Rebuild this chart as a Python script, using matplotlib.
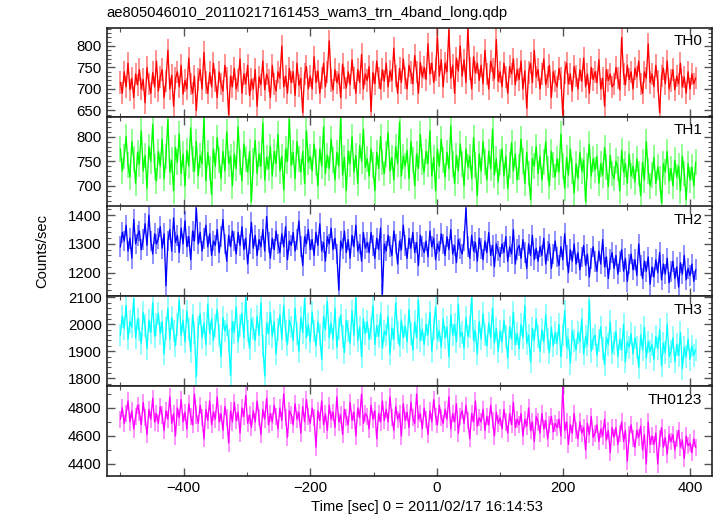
import numpy as np
import matplotlib
matplotlib.use("Agg")
import matplotlib.pyplot as plt
from matplotlib.ticker import MultipleLocator

plt.rcParams['font.family'] = ['Liberation Sans', 'DejaVu Sans']

title = "ae805046010_20110217161453_wam3_trn_4band_long.qdp"
xlabel = "Time [sec] 0 = 2011/02/17 16:14:53"
ylabel = "Counts/sec"
band_names = ["TH0", "TH1", "TH2", "TH3", "TH0123"]

t_start = -500.0
t_step = 3.0

th0 = [715, 690, 740, 705, 760, 698, 725, 680, 735, 710,
       745, 700, 722, 668, 750, 712, 690, 738, 705, 765,
       695, 728, 745, 680, 718, 790, 700, 732, 660, 725,
       740, 705, 755, 688, 720, 700, 772, 712, 690, 730,
       650, 722, 745, 700, 785, 715, 690, 738, 705, 760,
       720, 680, 740, 712, 695, 755, 725, 640, 730, 705,
       748, 700, 720, 770, 690, 735, 712, 755, 685, 722,
       700, 745, 660, 728, 710, 765, 698, 735, 720, 680,
       755, 712, 695, 740, 725, 800, 705, 730, 690, 748,
       715, 740, 685, 760, 708, 725, 645, 735, 752, 700,
       730, 700, 775, 715, 742, 690, 725, 760, 705, 740,
       812, 720, 698, 745, 715, 735, 680, 758, 725, 702,
       740, 710, 768, 725, 690, 745, 715, 780, 700, 735,
       720, 752, 648, 738, 712, 765, 725, 700, 745, 718,
       760, 705, 742, 720, 795, 730, 690, 748, 715, 770,
       725, 700, 755, 738, 712, 778, 740, 690, 762, 728,
       750, 722, 805, 735, 760, 715, 745, 820, 730, 768,
       705, 760, 740, 838, 725, 755, 690, 772, 742, 800,
       730, 768, 715, 842, 748, 700, 775, 738, 760, 720,
       755, 712, 790, 735, 700, 765, 745, 725, 815, 718,
       740, 705, 760, 728, 690, 752, 735, 770, 710, 745,
       722, 765, 700, 742, 655, 738, 760, 715, 790, 728,
       745, 700, 735, 770, 710, 728, 755, 680, 740, 718,
       705, 748, 725, 640, 738, 760, 712, 735, 695, 752,
       730, 700, 745, 718, 772, 705, 735, 690, 750, 722,
       740, 715, 768, 700, 725, 660, 745, 720, 735, 705,
       712, 750, 725, 698, 820, 735, 710, 755, 722, 740,
       700, 748, 728, 765, 712, 690, 740, 725, 805, 715,
       735, 705, 755, 718, 645, 730, 748, 712, 765, 700,
       720, 745, 698, 730, 712, 760, 705, 728, 690, 740,
       700, 735, 712, 725]

th1 = [775, 730, 760, 800, 742, 718, 790, 755, 705, 768,
       745, 812, 730, 762, 695, 780, 750, 825, 738, 710,
       770, 740, 795, 715, 760, 835, 728, 752, 690, 778,
       748, 805, 725, 765, 700, 772, 740, 818, 755, 730,
       790, 720, 762, 745, 838, 710, 768, 735, 682, 775,
       740, 798, 752, 715, 770, 730, 810, 745, 760, 700,
       765, 735, 820, 748, 710, 785, 755, 728, 770, 668,
       750, 792, 725, 765, 740, 828, 712, 758, 735, 780,
       720, 770, 745, 805, 730, 760, 692, 775, 750, 835,
       742, 768, 715, 790, 755, 728, 770, 705, 812, 748,
       760, 730, 785, 748, 700, 775, 740, 820, 725, 762,
       735, 795, 752, 712, 768, 740, 838, 722, 758, 690,
       770, 745, 800, 728, 762, 705, 782, 750, 815, 738,
       755, 720, 775, 742, 690, 768, 735, 800, 748, 725,
       765, 808, 730, 758, 712, 780, 745, 830, 720, 760,
       740, 772, 715, 790, 752, 700, 765, 735, 805, 748,
       728, 770, 745, 812, 720, 758, 690, 775, 740, 795,
       752, 718, 768, 735, 822, 745, 705, 762, 730, 785,
       745, 700, 775, 738, 760, 715, 798, 742, 680, 765,
       730, 790, 748, 712, 770, 735, 815, 722, 755, 708,
       748, 775, 720, 760, 695, 742, 788, 730, 765, 712,
       738, 795, 750, 705, 768, 725, 672, 755, 740, 780,
       725, 760, 712, 748, 790, 735, 700, 770, 742, 718,
       755, 728, 805, 740, 695, 758, 722, 775, 730, 685,
       745, 715, 768, 730, 752, 668, 740, 785, 720, 755,
       732, 760, 705, 745, 722, 778, 738, 698, 762, 725,
       715, 750, 735, 690, 772, 728, 745, 705, 765, 720,
       740, 708, 755, 725, 680, 748, 712, 790, 730, 700,
       722, 758, 705, 738, 715, 665, 745, 728, 770, 710,
       735, 700, 752, 718, 740, 690, 760, 725, 672, 745,
       712, 738, 700, 748]

th2 = [1290, 1340, 1310, 1365, 1275, 1320, 1250, 1385, 1300, 1330,
       1345, 1280, 1315, 1370, 1295, 1400, 1310, 1265, 1335, 1300,
       1320, 1360, 1285, 1335, 1155, 1310, 1350, 1275, 1390, 1305,
       1330, 1270, 1355, 1300, 1380, 1290, 1325, 1245, 1345, 1310,
       1425, 1300, 1340, 1275, 1320, 1365, 1290, 1335, 1260, 1310,
       1295, 1350, 1270, 1325, 1385, 1300, 1240, 1330, 1290, 1345,
       1310, 1265, 1340, 1295, 1360, 1280, 1320, 1230, 1300, 1375,
       1285, 1330, 1260, 1315, 1290, 1350, 1275, 1395, 1305, 1250,
       1320, 1280, 1345, 1300, 1270, 1335, 1290, 1360, 1245, 1310,
       1295, 1340, 1275, 1315, 1380, 1290, 1225, 1325, 1300, 1350,
       1280, 1315, 1260, 1340, 1295, 1370, 1275, 1305, 1240, 1325,
       1300, 1355, 1280, 1320, 1265, 1140, 1310, 1285, 1345, 1270,
       1315, 1250, 1330, 1290, 1365, 1275, 1300, 1240, 1340, 1285,
       1305, 1270, 1340, 1295, 1250, 1320, 1280, 1355, 1125, 1300,
       1275, 1330, 1290, 1260, 1345, 1300, 1230, 1310, 1280, 1365,
       1295, 1250, 1320, 1285, 1340, 1270, 1305, 1225, 1330, 1290,
       1270, 1310, 1255, 1345, 1290, 1320, 1245, 1300, 1275, 1335,
       1300, 1260, 1325, 1280, 1350, 1265, 1295, 1235, 1315, 1285,
       1265, 1310, 1425, 1290, 1250, 1330, 1275, 1305, 1240, 1320,
       1285, 1245, 1310, 1270, 1340, 1260, 1295, 1220, 1300, 1275,
       1255, 1300, 1270, 1325, 1240, 1290, 1265, 1350, 1230, 1280,
       1295, 1250, 1315, 1270, 1215, 1300, 1260, 1330, 1245, 1285,
       1240, 1290, 1260, 1320, 1230, 1275, 1300, 1215, 1265, 1310,
       1255, 1225, 1290, 1245, 1335, 1260, 1200, 1280, 1240, 1300,
       1230, 1270, 1210, 1255, 1295, 1225, 1265, 1185, 1250, 1290,
       1240, 1205, 1275, 1230, 1315, 1220, 1255, 1180, 1245, 1270,
       1215, 1260, 1195, 1240, 1280, 1205, 1250, 1170, 1230, 1265,
       1210, 1245, 1190, 1300, 1225, 1180, 1240, 1205, 1255, 1160,
       1220, 1185, 1245, 1200, 1270, 1175, 1230, 1195, 1250, 1165,
       1205, 1240, 1180, 1220, 1150, 1235, 1195, 1260, 1175, 1215,
       1190, 1230, 1170, 1210]

th3 = [1960, 2030, 1985, 2070, 1945, 2010, 1990, 2095, 1950, 2020,
       1980, 1930, 2045, 1995, 1910, 2015, 1970, 2080, 1955, 2000,
       2040, 1965, 2010, 1890, 1985, 2060, 1945, 2025, 1975, 1920,
       2000, 2090, 1960, 2015, 1935, 2050, 1980, 1900, 2035, 1970,
       1805, 1990, 2040, 1950, 2005, 1925, 2075, 1965, 2020, 1940,
       1995, 2055, 1960, 1880, 2025, 1975, 2000, 1940, 1810, 2010,
       1970, 2065, 1935, 1995, 2040, 1950, 2100, 1975, 1910, 2020,
       1985, 1940, 2030, 1960, 2080, 1920, 1808, 2005, 1965, 2045,
       1955, 2010, 1890, 1980, 2035, 1945, 2070, 1975, 1925, 2015,
       1990, 1940, 2060, 1965, 1900, 2025, 1970, 2095, 1950, 2000,
       1935, 2045, 1975, 1920, 2010, 1960, 1870, 2030, 1980, 2085,
       1950, 2005, 1945, 2060, 1915, 1985, 2035, 1955, 1895, 2015,
       1975, 1930, 2050, 1960, 2100, 1940, 1990, 1880, 2020, 1965,
       2010, 1945, 1985, 2070, 1925, 1995, 1955, 2040, 1910, 1975,
       1960, 2030, 1890, 1985, 1945, 2080, 1970, 1920, 2015, 1950,
       1995, 1935, 2055, 1965, 1905, 2010, 1950, 2090, 1940, 1980,
       1925, 2000, 1960, 2045, 1900, 1985, 2065, 1945, 1975, 1915,
       2020, 1950, 1990, 1880, 2035, 1960, 2000, 1935, 2075, 1955,
       1970, 1910, 2025, 1955, 1990, 2100, 1940, 1975, 1890, 2010,
       1945, 2040, 1960, 1920, 2005, 1950, 2060, 1930, 1985, 1900,
       1975, 1935, 2015, 1955, 1875, 1990, 1945, 2045, 1925, 1965,
       1910, 2000, 1950, 2070, 1930, 1960, 1860, 1985, 1940, 2020,
       1955, 1900, 1980, 1935, 2035, 1945, 1895, 1990, 1920, 1970,
       1930, 2000, 1880, 1960, 2050, 1915, 1945, 1855, 1975, 1940,
       1905, 1970, 1935, 2020, 1890, 1955, 1925, 2090, 1900, 1945,
       1960, 1885, 1940, 1990, 1910, 1850, 1950, 1925, 2010, 1895,
       1930, 1975, 1880, 1945, 1905, 2000, 1860, 1935, 1915, 1965,
       1890, 1950, 1915, 1840, 1960, 1905, 1990, 1875, 1935, 1900,
       1925, 1870, 1955, 1910, 1980, 1845, 1930, 1895, 2000, 1880,
       1900, 1950, 1860, 1925, 1885, 1970, 1835, 1915, 1880, 1945,
       1870, 1920, 1885, 1905]

th0123 = [4720, 4800, 4690, 4760, 4850, 4700, 4780, 4650, 4740, 4820,
          4770, 4680, 4840, 4730, 4610, 4790, 4720, 4870, 4700, 4760,
          4690, 4810, 4750, 4640, 4780, 4720, 4880, 4690, 4760, 4600,
          4800, 4730, 4860, 4700, 4770, 4650, 4830, 4740, 4680, 4900,
          4750, 4690, 4820, 4730, 4580, 4790, 4710, 4850, 4680, 4770,
          4720, 4880, 4700, 4760, 4640, 4810, 4730, 4550, 4780, 4700,
          4840, 4710, 4770, 4620, 4800, 4740, 4890, 4690, 4750, 4660,
          4780, 4700, 4850, 4730, 4610, 4790, 4720, 4870, 4680, 4760,
          4700, 4820, 4740, 4650, 4800, 4710, 4900, 4730, 4590, 4780,
          4750, 4680, 4830, 4720, 4770, 4620, 4810, 4700, 4860, 4740,
          4690, 4800, 4730, 4520, 4780, 4710, 4850, 4680, 4760, 4640,
          4820, 4720, 4770, 4660, 4880, 4700, 4750, 4610, 4790, 4730,
          4680, 4840, 4710, 4770, 4600, 4800, 4730, 4900, 4690, 4760,
          4740, 4650, 4820, 4720, 4780, 4580, 4760, 4700, 4850, 4710,
          4790, 4700, 4880, 4730, 4640, 4810, 4720, 4760, 4600, 4830,
          4710, 4770, 4660, 4840, 4730, 4690, 4900, 4720, 4760, 4650,
          4800, 4720, 4610, 4780, 4700, 4860, 4740, 4680, 4820, 4730,
          4690, 4790, 4720, 4880, 4650, 4760, 4700, 4830, 4620, 4740,
          4780, 4690, 4820, 4710, 4580, 4760, 4700, 4850, 4670, 4730,
          4700, 4790, 4640, 4740, 4680, 4820, 4710, 4600, 4770, 4690,
          4730, 4650, 4790, 4700, 4620, 4760, 4680, 4840, 4660, 4720,
          4680, 4760, 4600, 4720, 4670, 4800, 4640, 4700, 4560, 4740,
          4700, 4620, 4760, 4650, 4710, 4580, 4680, 4740, 4630, 4690,
          4660, 4720, 4600, 4950, 4640, 4700, 4540, 4680, 4620, 4760,
          4640, 4580, 4700, 4620, 4660, 4500, 4690, 4610, 4740, 4590,
          4620, 4680, 4560, 4650, 4600, 4720, 4570, 4640, 4480, 4660,
          4590, 4660, 4540, 4620, 4700, 4560, 4640, 4420, 4610, 4680,
          4580, 4520, 4640, 4590, 4670, 4500, 4610, 4400, 4700, 4540,
          4600, 4540, 4620, 4400, 4580, 4660, 4520, 4590, 4470, 4610,
          4560, 4610, 4500, 4580, 4640, 4520, 4570, 4440, 4600, 4530,
          4550, 4480, 4580, 4520]

errors = [26, 26, 36, 42, 62]
series = [th0, th1, th2, th3, th0123]
colors = ["#ff0000", "#00ff00", "#0000ff", "#00ffff", "#ff00ff"]
ylims = [(636, 843), (658, 841), (1118, 1430), (1770, 2104), (4312, 4955)]
ymajor = [50, 50, 100, 100, 200]
yminor = [10, 10, 20, 20, 100]

fig = plt.figure(figsize=(7.17, 5.16), dpi=100)
W, H = 717.0, 516.0
left_px, right_px = 106.5, 711.5
edges_px = [27.5, 116.5, 206.5, 296.3, 386.3, 476.3]

axes = []
for i in range(5):
    top, bot = edges_px[i], edges_px[i + 1]
    ax = fig.add_axes([left_px / W, 1 - bot / H, (right_px - left_px) / W, (bot - top) / H])
    vals = np.asarray(series[i], dtype=float)
    t = t_start + t_step * np.arange(len(vals))
    ax.vlines(t, vals - errors[i], vals + errors[i], color=colors[i], alpha=0.5, lw=1.2)
    ax.plot(t, vals, color=colors[i], lw=0.95)
    ax.set_xlim(-522, 434)
    ax.set_ylim(*ylims[i])
    ax.xaxis.set_major_locator(MultipleLocator(200))
    ax.xaxis.set_minor_locator(MultipleLocator(100))
    ax.yaxis.set_major_locator(MultipleLocator(ymajor[i]))
    ax.yaxis.set_minor_locator(MultipleLocator(yminor[i]))
    ax.tick_params(which='both', direction='in', top=True, right=True,
                   color='#555555', labelsize=10.8)
    ax.tick_params(which='major', length=6, width=1.0)
    ax.tick_params(which='minor', length=3, width=0.8)
    for sp in ax.spines.values():
        sp.set_linewidth(1.2)
        sp.set_color('#222222')
    if i < 4:
        ax.tick_params(labelbottom=False)
    ax.text(0.985, 0.93, band_names[i], transform=ax.transAxes, ha='right', va='top',
            fontsize=11)
    axes.append(ax)

fig.text(left_px / W, 1 - 13 / H, title, ha='left', va='center', fontsize=10.6)
fig.text(427 / W, 1 - 507 / H, xlabel, ha='center', va='center', fontsize=10.6)
fig.text(42 / W, 1 - 251 / H, ylabel, ha='center', va='center', rotation=90, fontsize=10.6)

fig.savefig("out.png", dpi=100)
